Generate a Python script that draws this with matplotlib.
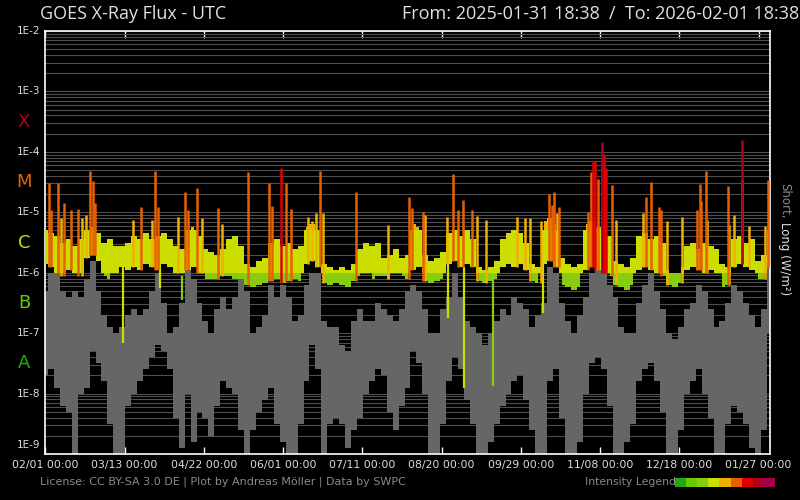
import datetime as dt
import numpy as np
import matplotlib
matplotlib.use("Agg")
import matplotlib.pyplot as plt
import matplotlib.dates as mdates
from matplotlib.patches import Rectangle
from matplotlib.ticker import FixedLocator, NullFormatter, LogLocator

start = dt.datetime(2025, 1, 31, 18, 38)
end = dt.datetime(2026, 2, 1, 18, 38)
step_days = 3  # one envelope sample every 3 days

# long channel (0.1-0.8 nm) envelope, log10 W/m^2
long_hi_log = [-5.30, -5.35,
               -5.40, -5.50, -5.45, -5.55, -5.45,
               -5.30, -5.25, -5.35,
               -5.50, -5.45, -5.55,
               -5.55, -5.50,
               -5.40, -5.45, -5.35, -5.45, -5.40, -5.35, -5.45,
               -5.55, -5.60,
               -5.30, -5.25, -5.40,
               -5.60, -5.65, -5.70, -5.60,
               -5.45, -5.40, -5.55,
               -5.85, -5.90, -5.80, -5.75,
               -5.50, -5.45, -5.55, -5.50, -5.60, -5.55,
               -5.25, -5.20, -5.30,
               -5.85, -5.90, -5.95, -5.90, -5.95, -5.85,
               -5.60, -5.50, -5.55, -5.50,
               -5.75, -5.70, -5.60, -5.75, -5.70,
               -5.20, -5.25,
               -5.70, -5.80, -5.75, -5.65,
               -5.35, -5.30, -5.40, -5.30, -5.45,
               -5.90, -5.95, -5.90, -5.80,
               -5.45, -5.35, -5.30, -5.35, -5.50,
               -5.85, -5.90,
               -5.15, -5.10, -5.20,
               -5.75, -5.85, -5.90, -5.85,
               -5.20, -5.15, -5.25, -5.30, -5.40,
               -5.80, -5.85, -5.90, -5.75,
               -5.40, -5.35, -5.45, -5.40, -5.50,
               -5.95, -6.00, -5.90,
               -5.55, -5.50, -5.60, -5.50, -5.55, -5.60,
               -5.85, -5.90,
               -5.45, -5.40, -5.50, -5.45,
               -5.80, -5.70, -5.30]
long_lo_log = [-5.85, -5.90,
               -6.00, -6.05, -5.95, -6.00, -6.05,
               -5.75, -5.70, -5.80,
               -6.05, -6.10, -6.00,
               -5.90, -5.95,
               -5.90, -5.95, -5.85, -5.90, -5.95, -5.85, -5.90,
               -6.00, -6.05,
               -5.95, -5.90, -6.00,
               -6.10, -6.10, -6.10, -6.05,
               -6.05, -6.10, -6.10,
               -6.20, -6.24, -6.20, -6.17,
               -6.13, -6.10, -6.17, -6.13, -6.10, -6.13,
               -5.85, -5.80, -5.90,
               -6.17, -6.20, -6.17, -6.20, -6.24, -6.13,
               -6.05, -6.00, -6.10, -6.05,
               -6.05, -6.10, -6.00, -6.05, -6.10,
               -5.95, -5.90,
               -6.13, -6.17, -6.13, -6.10,
               -5.85, -5.80, -5.90, -5.85, -5.90,
               -6.13, -6.17, -6.13, -6.10,
               -5.90, -5.85, -5.90, -5.85, -5.95,
               -6.13, -6.17,
               -5.85, -5.80, -5.90,
               -6.20, -6.24, -6.28, -6.24,
               -5.95, -5.90, -5.95, -6.00, -6.05,
               -6.20, -6.24, -6.28, -6.20,
               -5.95, -5.90, -5.95, -6.00, -6.05,
               -6.20, -6.24, -6.17,
               -5.95, -5.90, -5.95, -6.00, -5.95, -6.00,
               -6.24, -6.20,
               -5.90, -5.85, -5.90, -5.95,
               -6.10, -6.10, -5.90]

# short channel (0.05-0.4 nm) envelope, log10 W/m^2
short_hi_log = [-6.3, -6.0, -5.85, -6.3, -6.4, -6.3, -6.4, -6.1, -5.8, -6.3, -6.7,
                -6.9, -7.0, -6.9, -6.7, -6.6, -6.7, -6.6, -6.3, -6.0, -6.5,
                -7.0, -6.9, -6.5, -5.9, -6.1, -6.5, -6.8, -7.0, -6.6, -6.4,
                -6.6, -6.4, -6.1, -6.3, -7.0, -6.9, -6.7, -6.2, -6.4, -6.2,
                -6.4, -6.8, -6.7, -6.2, -6.0, -6.0, -6.8, -6.9, -6.9, -7.2,
                -7.3, -6.8, -6.6, -6.8, -6.8, -6.5, -6.6, -6.7, -6.8, -6.6,
                -6.3, -6.2, -6.3, -6.6, -7.0, -7.0, -6.6, -6.4, -6.0, -6.4,
                -6.8, -6.9, -7.0, -7.2, -7.0, -6.8, -6.6, -6.7, -6.4, -6.5,
                -6.6, -6.9, -6.7, -6.5, -5.9, -6.0, -6.5, -6.8, -7.0, -6.7,
                -6.4, -6.0, -5.9, -5.9, -6.2, -6.4, -6.9, -7.0, -7.0, -6.5,
                -6.2, -6.0, -6.3, -6.6, -7.0, -7.1, -6.9, -6.6, -6.5, -6.2,
                -6.3, -6.6, -6.9, -6.8, -6.5, -6.2, -6.3, -6.5, -6.7, -6.9, -6.6,
                -5.8]
short_lo_log = [-7.7, -7.6, -7.9, -8.2, -8.3, -9.0, -8.0, -7.9, -7.3, -7.5, -7.8,
                -8.5, -9.0, -9.0, -8.2, -8.0, -7.8, -7.6, -7.4, -7.2, -7.3,
                -7.6, -8.4, -8.9, -8.0, -8.8, -8.3, -8.4, -8.7, -8.2, -7.8,
                -7.9, -8.0, -8.6, -9.0, -8.6, -8.3, -8.1, -7.9, -8.5, -8.8,
                -9.0, -9.0, -8.5, -7.8, -7.2, -7.6, -9.0, -8.5, -8.4, -8.5,
                -8.9, -8.6, -8.4, -8.0, -7.8, -7.6, -7.7, -8.3, -8.6, -8.2,
                -7.9, -7.3, -7.5, -8.0, -9.0, -9.0, -8.5, -7.8, -7.4, -7.6,
                -8.1, -8.5, -9.0, -9.0, -8.8, -8.5, -8.2, -8.0, -7.8, -7.7,
                -8.1, -8.6, -9.0, -9.0, -7.8, -7.6, -8.4, -9.0, -9.0, -8.8,
                -8.0, -7.5, -7.4, -7.6, -8.2, -9.0, -9.0, -8.8, -8.5, -7.8,
                -7.6, -7.5, -7.8, -8.3, -9.0, -9.0, -8.6, -8.0, -7.8, -7.6,
                -8.0, -8.4, -9.0, -9.0, -8.5, -8.2, -8.3, -8.5, -8.9, -9.0, -8.6,
                -7.0]

# flare peaks in the long channel: day after start, log10 peak flux
flare_days = [2.0, 3.0, 6.4, 8.1, 9.8, 13.1, 16.5, 18.9, 20.5, 22.7, 24.2, 25.3,
              44.6, 48.5, 53.9, 55.6, 57.2, 67.3, 70.7, 72.1, 76.8, 79.5, 87.2, 89.4,
              102.3, 113.1, 114.5, 119.2, 121.7, 124.2, 133.0, 135.0, 136.7, 138.9,
              140.1, 156.9, 173.1, 184.0, 185.1, 190.8, 191.8, 203.1, 205.9, 208.6,
              211.2, 215.4, 218.1, 222.4, 238.1, 242.3, 244.8, 250.4, 254.4, 255.8,
              257.0, 258.3, 259.5, 274.3, 275.6, 276.8, 277.7, 279.0, 281.0, 281.0,
              282.2, 283.2, 286.1, 288.1, 301.7, 303.2, 305.9, 310.0, 311.0, 313.8,
              321.4, 329.0, 330.7, 331.2, 333.5, 334.0, 344.7, 345.3, 347.7, 351.7,
              351.7, 355.4, 363.5, 365.2]
flare_peak_log = [-4.52, -4.96, -4.52, -5.10, -4.85, -4.96, -4.95, -5.10, -5.05, -4.32, -4.48, -4.85,
                  -5.13, -4.92, -5.12, -4.32, -4.91, -5.07, -4.66, -4.96, -4.59, -5.10, -4.93, -5.20,
                  -4.33, -4.52, -4.89, -4.26, -4.52, -4.95, -5.07, -5.14, -5.02, -4.32,
                  -5.02, -4.66, -5.21, -4.74, -4.93, -4.99, -5.05, -5.08, -4.37, -4.96,
                  -4.80, -4.96, -5.06, -5.12, -5.07, -5.10, -5.10, -5.15, -4.70, -4.88,
                  -4.67, -5.01, -4.91, -4.99, -4.33, -4.16, -4.15, -4.45, -3.83, -4.15,
                  -4.03, -4.27, -4.55, -5.12, -5.02, -4.75, -4.50, -4.92, -4.97, -5.14,
                  -5.07, -4.96, -4.53, -4.81, -4.32, -5.12, -4.56, -5.21, -5.04, -3.80,
                  -4.47, -5.23, -5.23, -4.46]

# data dropouts in the long channel
dropout_days = [39.2, 58.0, 69.0, 203.2, 211.5, 226.3, 251.2]
dropout_log = [-7.17, -6.26, -6.45, -6.75, -7.91, -7.88, -6.66]

class_letters = ["A", "B", "C", "M", "X"]
class_colors = ["#22aa11", "#66cc00", "#ccdd00", "#e86000", "#b00020"]
legend_colors = ["#22aa11", "#66cc00", "#88cc11", "#ccdd00", "#f0b000",
                 "#e86000", "#e00000", "#b00020", "#a00050"]
level_edges = [1e-7, 5e-7, 1e-6, 5e-6, 1e-5, 5e-5, 1e-4, 5e-4]
edges_log = np.log10(level_edges)

t0 = mdates.date2num(start)


def level_color(v_log):
    return legend_colors[int(np.searchsorted(edges_log, v_log, side="right"))]


fig = plt.figure(figsize=(8, 5), dpi=100, facecolor="black")
ax = fig.add_axes([45 / 800, 46 / 500, 725 / 800, 423 / 500])
ax.set_facecolor("black")
ax.set_yscale("log")
ax.set_ylim(1e-9, 1e-2)
ax.set_xlim(t0, mdates.date2num(end))

# gridlines at every decade and sub-decade
ax.yaxis.set_major_locator(FixedLocator([10.0 ** e for e in range(-9, -1)]))
ax.yaxis.set_minor_locator(LogLocator(base=10, subs=np.arange(2, 10)))
ax.yaxis.set_minor_formatter(NullFormatter())
ax.yaxis.set_major_formatter(NullFormatter())
ax.grid(True, axis="y", which="both", color="#4e4e4e", lw=0.8)
ax.set_axisbelow(True)
ax.tick_params(axis="y", which="both", length=0)
for e in range(-9, -1):
    ax.text(-5 / 725, 10.0 ** e if e > -9 else 10 ** -8.93, "1E%d" % e, color="#dddddd",
            fontsize=7.5, ha="right", va="center" if e > -9 else "bottom",
            transform=ax.get_yaxis_transform())

t = np.arange(len(short_hi_log)) * step_days

# short channel in grey
ax.fill_between(t0 + t, 10.0 ** np.array(short_lo_log), 10.0 ** np.array(short_hi_log),
                step="mid", color="#666666", lw=0, zorder=2)

# long channel coloured by class band
lo = np.array(long_lo_log)
hi = np.array(long_hi_log)
bounds = np.concatenate([[-12.0], edges_log, [0.0]])
for i, col in enumerate(legend_colors):
    a, b = bounds[i], bounds[i + 1]
    y1, y2 = np.clip(lo, a, b), np.clip(hi, a, b)
    if np.any(y2 > y1):
        ax.fill_between(t0 + t, 10 ** y1, 10 ** y2, where=y2 > y1, step="mid",
                        color=col, lw=0, zorder=3)

# dropouts, coloured by the level they drop from
for d, v in zip(dropout_days, dropout_log):
    base = long_lo_log[min(int(round(d / step_days)), len(long_lo_log) - 1)]
    ax.vlines(t0 + d, 10 ** v, 10 ** base, color=level_color(base), lw=1.6, zorder=3)

# flares, highest drawn first so partial overlays sit on top
for i in np.argsort(flare_peak_log):
    d, p = flare_days[i], flare_peak_log[i]
    base = long_lo_log[min(int(round(d / step_days)), len(long_lo_log) - 1)]
    ax.vlines(t0 + d, 10 ** base, 10 ** p, color=level_color(p), lw=1.8, zorder=4)

# x ticks every 40 days
tick_dates = [dt.datetime(2025, 2, 1) + dt.timedelta(days=40 * k) for k in range(10)]
ax.set_xticks(mdates.date2num(tick_dates))
ax.xaxis.set_major_formatter(mdates.DateFormatter("%m/%d %H:%M"))
ax.tick_params(axis="x", direction="in", top=True, length=5, width=1, color="white",
               labelsize=7.8, labelcolor="#dddddd", pad=4)
for s in ax.spines.values():
    s.set_color("white")
    s.set_linewidth(1.2)

# flare class letters between decades
for j, (letter, col) in enumerate(zip(class_letters, class_colors)):
    ax.text(-21 / 725, 10 ** (-7.5 + j), letter, color=col, fontsize=13,
            ha="center", va="center", transform=ax.get_yaxis_transform())

fig.text(40 / 800, 1 - 14 / 500, "GOES X-Ray Flux - UTC", color="#e0e0e0",
         fontsize=13, family="Open Sans", ha="left", va="center")
fig.text(799 / 800, 1 - 14 / 500, "From: 2025-01-31 18:38  /  To: 2026-02-01 18:38",
         color="#e0e0e0", fontsize=13, family="Open Sans", ha="right", va="center")

fig.text(785 / 800, 1 - 183 / 500, "Short,", color="#888888", fontsize=8.5,
         rotation=270, ha="center", va="top")
fig.text(785 / 800, 1 - 222 / 500, "Long (W/m²)", color="#e0e0e0", fontsize=8.5,
         rotation=270, ha="center", va="top")

fig.text(40 / 800, 1 - 482 / 500,
         "License: CC BY-SA 3.0 DE | Plot by Andreas Möller | Data by SWPC",
         color="#8a8a8a", fontsize=8, ha="left", va="center")
fig.text(676 / 800, 1 - 482 / 500, "Intensity Legend", color="#8a8a8a",
         fontsize=7.8, ha="right", va="center")
bw = 100 / len(legend_colors)
for k, c in enumerate(legend_colors):
    fig.add_artist(Rectangle(((675 + k * bw) / 800, 1 - 487 / 500), bw / 800, 9 / 500,
                             transform=fig.transFigure, facecolor=c, edgecolor="none"))

fig.savefig("out.png", dpi=100, facecolor="black")
